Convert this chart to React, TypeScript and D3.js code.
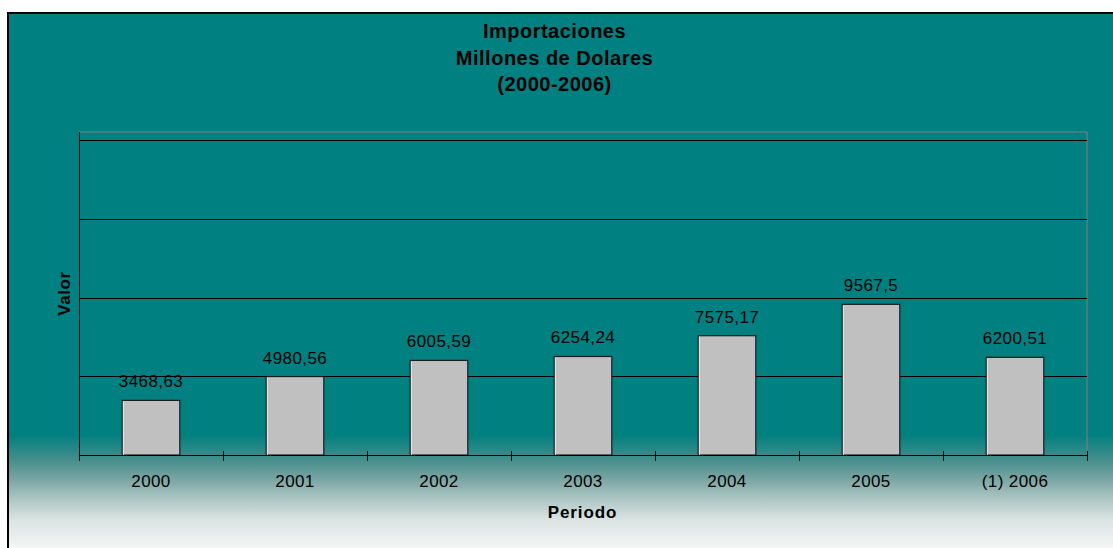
import React from "react";
import * as d3 from "d3";

// Imports per year, millions of dollars
const periods: string[] = ["2000", "2001", "2002", "2003", "2004", "2005", "(1) 2006"];
const importValues: number[] = [3468.63, 4980.56, 6005.59, 6254.24, 7575.17, 9567.5, 6200.51];
const valueLabels: string[] = ["3468,63", "4980,56", "6005,59", "6254,24", "7575,17", "9567,5", "6200,51"];
const gridValues: number[] = [5000, 10000, 15000, 20000];
const titleLines: string[] = ["Importaciones", "Millones de Dolares", "(2000-2006)"];

const W = 1113;
const H = 548;
const FONT = "'Liberation Sans', Arial, Helvetica, sans-serif";

const plotLeft = 79;
const plotRight = 1087;
const plotTop = 132;
const plotBottom = 455;

export default function App() {
  const x = d3.scaleBand<string>().domain(periods).range([plotLeft, plotRight]).paddingInner(0.6).paddingOuter(0.3);
  const xBand = d3.scaleBand<string>().domain(periods).range([plotLeft, plotRight]);
  const y = d3.scaleLinear().domain([0, 20000]).range([plotBottom, 140]);

  const tickXs = d3.range(periods.length + 1).map((i) => plotLeft + i * xBand.step());

  return (
    <svg
      width={W}
      height={H}
      style={{ position: "absolute", left: 0, top: 0, display: "block", background: "#fff" }}
      fontFamily={FONT}
    >
      <defs>
        <linearGradient id="chartBg" gradientUnits="userSpaceOnUse" x1="0" y1="13" x2="0" y2="560">
          <stop offset={(435 - 13) / 547} stopColor="#008080" />
          <stop offset={(460 - 13) / 547} stopColor="#468e8c" />
          <stop offset={(480 - 13) / 547} stopColor="#7ca6a4" />
          <stop offset={(500 - 13) / 547} stopColor="#afc8c6" />
          <stop offset={(520 - 13) / 547} stopColor="#dbe4e3" />
          <stop offset={(548 - 13) / 547} stopColor="#f4f6f5" />
          <stop offset={1} stopColor="#f8f9f9" />
        </linearGradient>
      </defs>

      {/* chart area */}
      <rect x={8} y={13} width={1120} height={560} fill="url(#chartBg)" stroke="#000" strokeWidth={2} />

      {/* title */}
      <text textAnchor="middle" fontWeight="bold" fontSize={20} letterSpacing={0.5} fill="#000">
        {titleLines.map((line, i) => (
          <tspan key={line} x={554.5} y={38 + i * 26.7}>
            {line}
          </tspan>
        ))}
      </text>

      {/* plot frame */}
      <line x1={plotLeft} x2={plotRight} y1={plotTop} y2={plotTop} stroke="#808080" strokeWidth={1} />
      <line x1={plotRight} x2={plotRight} y1={plotTop} y2={plotBottom} stroke="#808080" strokeWidth={1} />

      {/* gridlines */}
      {gridValues.map((v) => (
        <line key={v} x1={plotLeft} x2={plotRight} y1={Math.round(y(v)) + 0.5} y2={Math.round(y(v)) + 0.5} stroke="#000" strokeWidth={1} />
      ))}

      {/* bars */}
      {periods.map((p, i) => {
        const bx = x(p)!;
        const by = y(importValues[i]);
        const bw = x.bandwidth();
        return (
          <g key={p}>
            <rect x={bx} y={by} width={bw} height={plotBottom - by} fill="#c0c0c0" stroke="#1a1a1a" strokeWidth={1.2} />
            <line x1={bx + 1.2} x2={bx + 1.2} y1={by + 1} y2={plotBottom} stroke="#e8e8e8" strokeWidth={1} />
            <text x={bx + bw / 2} y={by - 13} textAnchor="middle" fontSize={17} letterSpacing={0.4} fill="#000">
              {valueLabels[i]}
            </text>
            <text x={xBand(p)! + xBand.bandwidth() / 2} y={487} textAnchor="middle" fontSize={17} letterSpacing={0.4} fill="#000">
              {p}
            </text>
          </g>
        );
      })}

      {/* axes */}
      <line x1={plotLeft + 0.5} x2={plotLeft + 0.5} y1={plotTop} y2={plotBottom + 6} stroke="#000" strokeWidth={1} />
      <line x1={plotLeft} x2={plotRight} y1={plotBottom + 0.5} y2={plotBottom + 0.5} stroke="#000" strokeWidth={1.2} />
      {tickXs.map((tx) => (
        <line key={tx} x1={Math.round(tx) + 0.5} x2={Math.round(tx) + 0.5} y1={plotBottom - 4} y2={plotBottom + 6} stroke="#000" strokeWidth={1} />
      ))}

      {/* axis titles */}
      <text x={582.5} y={518} textAnchor="middle" fontWeight="bold" fontSize={17} letterSpacing={0.9} fill="#000">
        Periodo
      </text>
      <text
        transform="translate(69.5,293.5) rotate(-90)"
        textAnchor="middle"
        fontWeight="bold"
        fontSize={17}
        letterSpacing={0.6}
        fill="#000"
      >
        Valor
      </text>
    </svg>
  );
}
